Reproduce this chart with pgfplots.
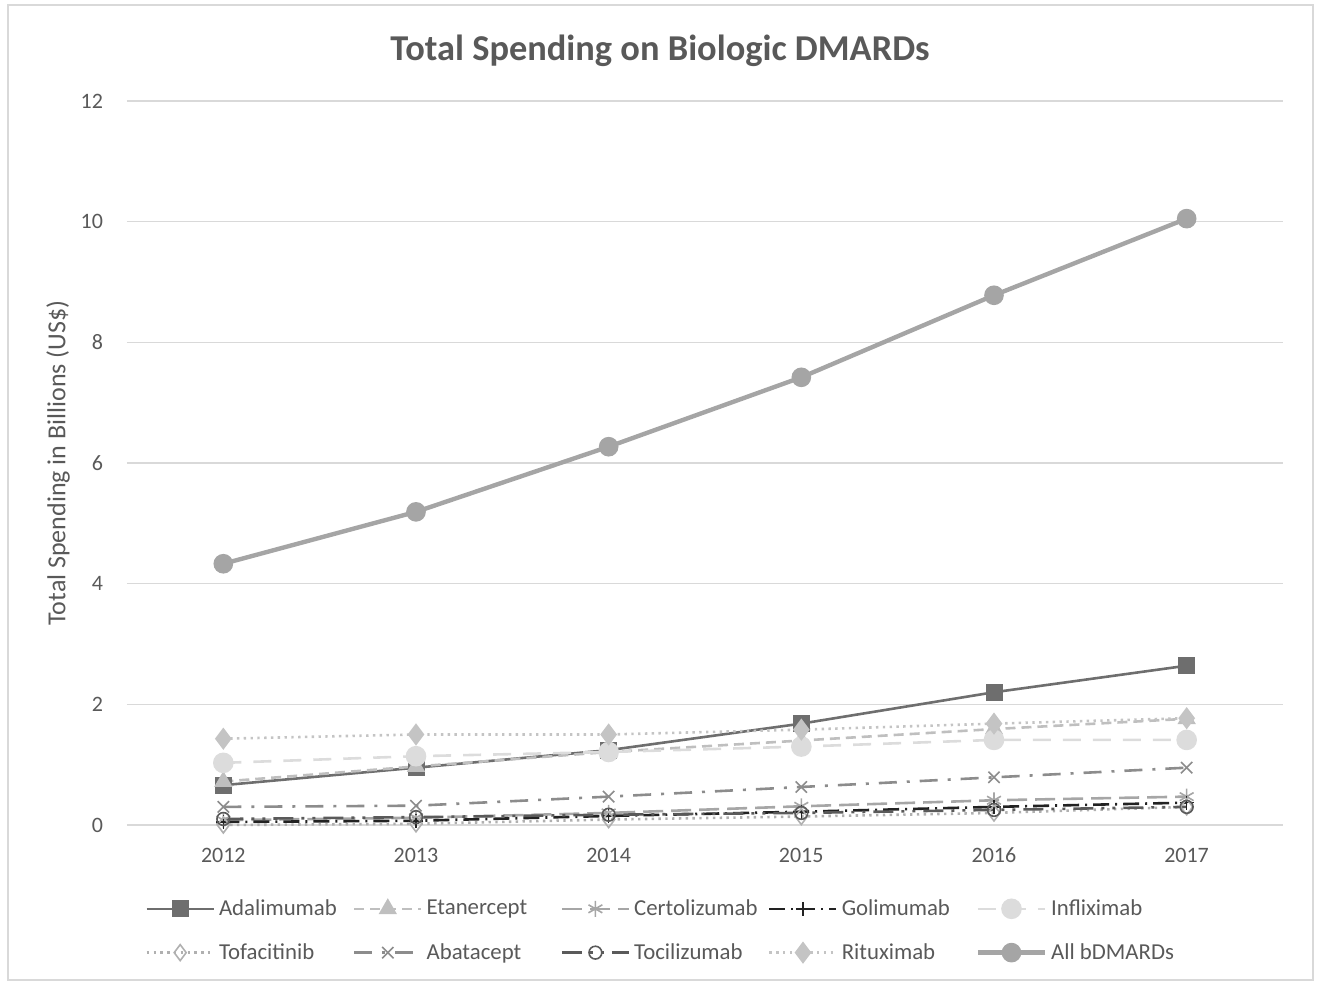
\documentclass[border=0pt]{standalone}
\usepackage{pgfplots}
\pgfplotsset{compat=1.18}
\usepackage{fontspec}
\setmainfont{Carlito}
\definecolor{txt}{HTML}{595959}
\definecolor{grd}{HTML}{D9D9D9}
\definecolor{cAda}{HTML}{6E6E6E}
\definecolor{cEta}{HTML}{BFBFBF}
\definecolor{cCer}{HTML}{A6A6A6}
\definecolor{cGol}{HTML}{222222}
\definecolor{cInf}{HTML}{DCDCDC}
\definecolor{cTof}{HTML}{B0B0B0}
\definecolor{cAba}{HTML}{8C8C8C}
\definecolor{cToc}{HTML}{5A5A5A}
\definecolor{cRit}{HTML}{C4C4C4}
\definecolor{cAll}{HTML}{A5A5A5}
\newcommand{\lgent}[1]{\makebox[65pt][l]{#1}}
\begin{document}
\begin{tikzpicture}
\path (0,0) rectangle (659.5pt,492pt);
\draw[grd, line width=0.8pt] (4pt,2pt) rectangle (656.5pt,489.5pt);
\node[text=txt, font=\fontsize{18.2}{21}\selectfont\bfseries] at (330pt,466.5pt) {Total Spending on Biologic DMARDs};
\node[text=txt, rotate=90, font=\fontsize{13}{15}\selectfont] at (29pt,260.5pt) {Total Spending in Billions (US\$)};
\begin{axis}[
  at={(63.5pt,79.5pt)}, anchor=south west,
  scale only axis, width=578pt, height=362pt,
  xmin=2011.5, xmax=2017.5, ymin=0, ymax=12,
  xtick={2012,...,2017}, ytick={0,2,...,12},
  xticklabel style={/pgf/number format/1000 sep={}, yshift=-8pt},
  yticklabel style={xshift=-8.5pt},
  /pgf/number format/assume math mode=true,
  tick label style={text=txt, font=\fontsize{11}{13}\selectfont},
  major tick length=0pt,
  axis line style={draw=none},
  ymajorgrids, grid style={grd, line width=0.6pt},
  clip=false,
  legend columns=5,
  legend cell align=left,
  legend style={draw=none, fill=none, at={(axis description cs:0,0)}, anchor=north west,
    xshift=6pt, yshift=-33pt, font=\fontsize{11.4}{13.5}\selectfont, text=txt,
    /tikz/every even column/.append style={column sep=0pt},
    row sep=8.5pt},
  legend image code/.code={\draw[mark repeat=2,mark phase=2,#1] plot coordinates {(0pt,0pt)(16.75pt,0pt)(33.5pt,0pt)};},
]
\addplot[cAda, line width=1.3pt, mark=square*, mark size=3.6pt] coordinates {(2012,0.66)(2013,0.95)(2014,1.24)(2015,1.68)(2016,2.2)(2017,2.64)};
\addlegendentry{\lgent{Adalimumab}}
\addplot[cEta, line width=1.3pt, dash pattern=on 5pt off 3pt, mark=triangle*, mark size=4pt, mark options={solid}] coordinates {(2012,0.72)(2013,0.97)(2014,1.21)(2015,1.40)(2016,1.59)(2017,1.76)};
\addlegendentry{\lgent{Etanercept}}
\addplot[cCer, line width=1.3pt, dash pattern=on 10pt off 4pt, mark=asterisk, mark size=4pt, mark options={solid, line width=0.8pt}] coordinates {(2012,0.08)(2013,0.12)(2014,0.2)(2015,0.31)(2016,0.41)(2017,0.47)};
\addlegendentry{\lgent{Certolizumab}}
\addplot[cGol, line width=1.3pt, dash pattern=on 8pt off 3pt on 1pt off 3pt, mark=+, mark size=3.5pt, mark options={solid, line width=0.8pt}] coordinates {(2012,0.05)(2013,0.07)(2014,0.15)(2015,0.22)(2016,0.3)(2017,0.37)};
\addlegendentry{\lgent{Golimumab}}
\addplot[cInf, line width=1.3pt, dash pattern=on 9pt off 6pt, mark=*, mark size=4.5pt, mark options={solid}] coordinates {(2012,1.03)(2013,1.14)(2014,1.21)(2015,1.30)(2016,1.41)(2017,1.41)};
\addlegendentry{\lgent{Infliximab}}
\addplot[cTof, line width=1.3pt, dash pattern=on 1.2pt off 2.2pt, mark=diamond, mark size=4pt, mark options={solid, fill=white, line width=0.8pt}] coordinates {(2012,0.0)(2013,0.02)(2014,0.09)(2015,0.14)(2016,0.2)(2017,0.3)};
\addlegendentry{\lgent{Tofacitinib}}
\addplot[cAba, line width=1.3pt, dash pattern=on 9pt off 5pt on 1.5pt off 5pt, mark=x, mark size=4pt, mark options={solid, line width=0.8pt}] coordinates {(2012,0.3)(2013,0.32)(2014,0.47)(2015,0.63)(2016,0.79)(2017,0.95)};
\addlegendentry{\lgent{Abatacept}}
\addplot[cToc, line width=1.3pt, dash pattern=on 10pt off 4pt on 1.5pt off 4pt on 1.5pt off 4pt, mark=o, mark size=3.2pt, mark options={solid, fill=white, line width=0.8pt}] coordinates {(2012,0.1)(2013,0.13)(2014,0.17)(2015,0.2)(2016,0.25)(2017,0.3)};
\addlegendentry{\lgent{Tocilizumab}}
\addplot[cRit, line width=1.3pt, dash pattern=on 1.2pt off 2.2pt, mark=diamond*, mark size=4.5pt, mark options={solid}] coordinates {(2012,1.43)(2013,1.5)(2014,1.5)(2015,1.58)(2016,1.68)(2017,1.77)};
\addlegendentry{\lgent{Rituximab}}
\addplot[cAll, line width=2.2pt, mark=*, mark size=3.8pt] coordinates {(2012,4.33)(2013,5.19)(2014,6.27)(2015,7.42)(2016,8.78)(2017,10.05)};
\addlegendentry{\lgent{All bDMARDs}}
\end{axis}
\end{tikzpicture}
\end{document}
